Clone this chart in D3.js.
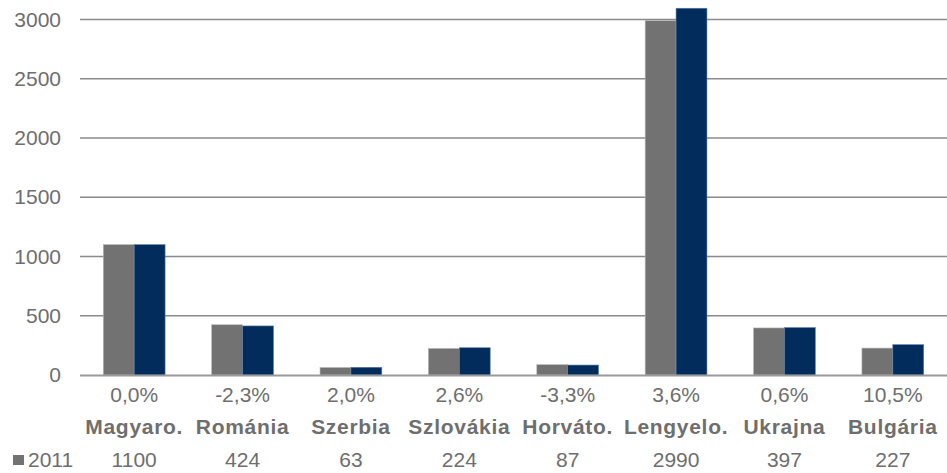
<html>
<head>
<meta charset="utf-8">
<script src="https://cdnjs.cloudflare.com/ajax/libs/d3/7.8.5/d3.min.js"></script>
<style>
  html, body { margin: 0; padding: 0; background: #fff; }
  svg text { font-family: "Liberation Sans", Arial, sans-serif; fill: #6e6e6e; }
</style>
</head>
<body>
<svg width="947" height="473" id="mainsvg"></svg>
<script>
  // chart data
  const countries = ["Magyaro.", "Románia", "Szerbia", "Szlovákia", "Horváto.", "Lengyelo.", "Ukrajna", "Bulgária"];
  const growth = ["0,0%", "-2,3%", "2,0%", "2,6%", "-3,3%", "3,6%", "0,6%", "10,5%"];
  const values2011 = [1100, 424, 63, 224, 87, 2990, 397, 227];
  const values2012 = [1100, 414, 65, 230, 84, 3095, 400, 256];
  const yTicks = [0, 500, 1000, 1500, 2000, 2500, 3000];
  const seriesNames = ["2011", "2012"];
  const colors = ["#727272", "#012c5b"];

  const svg = d3.select('svg');
  const xScale = d3.scaleBand().domain(countries).range([80, 947]).paddingInner(0.43).paddingOuter(0.215);
  const xSub = d3.scaleBand().domain(seriesNames).range([0, xScale.bandwidth()]);
  const yScale = d3.scaleLinear().domain([0, 3000]).range([375, 19.5]);

  // gridlines
  svg.append('g').selectAll('line').data(yTicks.filter(d => d > 0)).join('line')
    .attr('x1', 80).attr('x2', 947)
    .attr('y1', d => yScale(d)).attr('y2', d => yScale(d))
    .attr('stroke', '#8a8a8a').attr('stroke-width', 1.5);

  // y tick labels
  const yAxis = d3.axisLeft(yScale).tickValues(yTicks).tickFormat(d3.format('d')).tickSize(0).tickPadding(19);
  const yAxisGroup = svg.append('g').attr('transform', 'translate(80,0)').call(yAxis);
  yAxisGroup.select('.domain').remove();
  yAxisGroup.selectAll('text').style('font-size', '21px').attr('fill', '#6e6e6e')
    .attr('font-family', null);

  // bars
  const table = countries.map((c, i) => ({country: c, vals: [values2011[i], values2012[i]]}));
  const groups = svg.append('g').selectAll('g').data(table).join('g')
    .attr('transform', d => `translate(${xScale(d.country)},0)`);
  groups.selectAll('rect').data(d => d.vals.map((v, j) => ({s: seriesNames[j], v: v, j: j}))).join('rect')
    .attr('x', d => xSub(d.s)).attr('width', xSub.bandwidth())
    .attr('y', d => yScale(d.v)).attr('height', d => yScale(0) - yScale(d.v))
    .attr('fill', d => colors[d.j])
    .attr('stroke', d => d.j === 0 ? '#b5b5b5' : '#5d7fa6').attr('stroke-width', 0.6);

  // zero axis line
  svg.append('line').attr('x1', 80).attr('x2', 947)
    .attr('y1', yScale(0) + 0.5).attr('y2', yScale(0) + 0.5)
    .attr('stroke', '#9a9a9a').attr('stroke-width', 2);

  // category rows
  const center = c => xScale(c) + xScale.bandwidth() / 2;
  svg.append('g').selectAll('text').data(countries).join('text')
    .attr('x', center).attr('y', 402).attr('text-anchor', 'middle')
    .style('font-size', '21px').text((d, i) => growth[i]);
  svg.append('g').selectAll('text').data(countries).join('text')
    .attr('x', center).attr('y', 434).attr('text-anchor', 'middle')
    .style('font-size', '21px').style('font-weight', 'bold').style('letter-spacing', '0.7px')
    .text(d => d);
  svg.append('g').selectAll('text').data(countries).join('text')
    .attr('x', center).attr('y', 467).attr('text-anchor', 'middle')
    .style('font-size', '21px').text((d, i) => values2011[i]);

  // legend key for data table row
  svg.append('rect').attr('x', 13).attr('y', 455).attr('width', 11).attr('height', 10).attr('fill', colors[0]);
  svg.append('text').attr('x', 28).attr('y', 467).style('font-size', '21px').text(seriesNames[0]);
</script>
</body>
</html>
